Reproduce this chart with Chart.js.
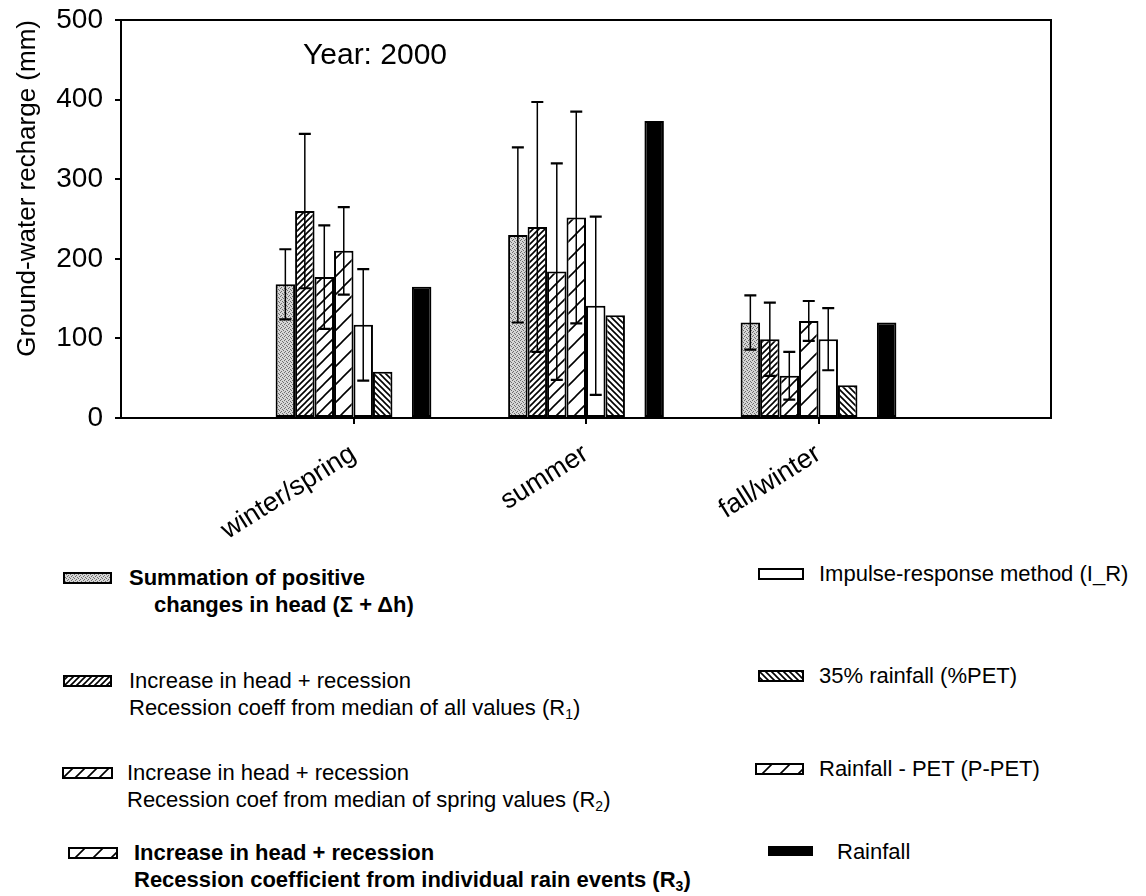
<!DOCTYPE html>
<html>
<head>
<meta charset="utf-8">
<script src="https://cdn.jsdelivr.net/npm/chart.js@4.4.0/dist/chart.umd.min.js"></script>
<style>
  body { margin: 0; background: #fff; font-family: 'Liberation Sans', Arial, sans-serif; color: #000; }
  #wrap { position: relative; width: 1146px; height: 896px; }
  #myChart { position: absolute; left: 0; top: 0; }
  .year { position: absolute; left: 303px; top: 37px; font-size: 30px; }
  .item { position: absolute; font-size: 22px; line-height: 27px; white-space: nowrap; }
  .item.bold { font-weight: bold; }
  .item sub { font-size: 14px; vertical-align: -4px; line-height: 0; }
  .sw { position: absolute; }
</style>
</head>
<body>
<div id="wrap">
  <canvas id="myChart" width="1146" height="540"></canvas>
  <div class="year">Year: 2000</div>
</div>
<script>
const seasons = ['winter/spring', 'summer', 'fall/winter'];

// recharge (mm) and error for each method
const summation = [168, 230, 120];
const summationErr = [44, 110, 34];
const r1 = [260, 240, 99];
const r1Err = [97, 157, 46];
const r2 = [177, 184, 53];
const r2Err = [65, 136, 30];
const r3 = [210, 252, 122];
const r3Err = [55, 133, 25];
const impulse = [117, 141, 99];
const impulseErr = [70, 112, 39];
const pctRain = [58, 129, 41];
const pPet = [null, null, null];
const rainfall = [165, 373, 120];

const yTicks = [0, 100, 200, 300, 400, 500];

// pad with empty categories on both ends
const pad = arr => [null, ...arr, null];

function makePattern(kind) {
  const c = document.createElement('canvas');
  const g = c.getContext('2d');
  let s = 6;
  if (kind === 'stipple') {
    s = 4;
    c.width = c.height = s;
    g.fillStyle = '#d6d6d6';
    g.fillRect(0, 0, s, s);
    g.fillStyle = '#6e6e6e';
    [[0, 0], [2, 1], [1, 3], [3, 2]].forEach(p => g.fillRect(p[0], p[1], 1, 1));
    return g.createPattern(c, 'repeat');
  }
  if (kind === 'fwd6') s = 6;
  if (kind === 'fwd12') s = 12;
  if (kind === 'fwd18') s = 18;
  if (kind === 'back6') s = 6;
  c.width = c.height = s;
  g.fillStyle = '#fff';
  g.fillRect(0, 0, s, s);
  g.strokeStyle = '#000';
  g.lineWidth = 1.6;
  g.beginPath();
  if (kind.startsWith('back')) {
    g.moveTo(0, 0); g.lineTo(s, s);
    g.moveTo(-1, s - 1); g.lineTo(1, s + 1);
    g.moveTo(s - 1, -1); g.lineTo(s + 1, 1);
  } else {
    g.moveTo(0, s); g.lineTo(s, 0);
    g.moveTo(-1, 1); g.lineTo(1, -1);
    g.moveTo(s - 1, s + 1); g.lineTo(s + 1, s - 1);
  }
  g.stroke();
  return g.createPattern(c, 'repeat');
}

const series = [
  { label: 'Summation', data: summation, errors: summationErr, fill: makePattern('stipple') },
  { label: 'R1', data: r1, errors: r1Err, fill: makePattern('fwd6') },
  { label: 'R2', data: r2, errors: r2Err, fill: makePattern('fwd12') },
  { label: 'R3', data: r3, errors: r3Err, fill: makePattern('fwd18') },
  { label: 'I_R', data: impulse, errors: impulseErr, fill: '#fff' },
  { label: '%PET', data: pctRain, errors: null, fill: makePattern('back6') },
  { label: 'P-PET', data: pPet, errors: null, fill: makePattern('fwd18') },
  { label: 'Rainfall', data: rainfall, errors: null, fill: '#000' },
];

const errorBars = {
  id: 'errorBars',
  afterDatasetsDraw(chart) {
    const { ctx, scales: { y } } = chart;
    chart.data.datasets.forEach((ds, i) => {
      if (!ds.errors) return;
      const meta = chart.getDatasetMeta(i);
      meta.data.forEach((bar, j) => {
        const v = ds.data[j], e = ds.errors[j];
        if (v == null || e == null) return;
        const x = bar.x;
        const top = y.getPixelForValue(v + e);
        const bot = y.getPixelForValue(Math.max(0, v - e));
        ctx.save();
        ctx.strokeStyle = '#000';
        ctx.lineWidth = 1.5;
        ctx.beginPath();
        ctx.moveTo(x, top); ctx.lineTo(x, bot);
        ctx.stroke();
        ctx.lineWidth = 2.2;
        ctx.beginPath();
        ctx.moveTo(x - 6, top); ctx.lineTo(x + 6, top);
        ctx.moveTo(x - 6, bot); ctx.lineTo(x + 6, bot);
        ctx.stroke();
        ctx.restore();
      });
    });
  }
};

const frame = {
  id: 'frame',
  afterDatasetsDraw(chart) {
    const { ctx, chartArea: a } = chart;
    ctx.save();
    ctx.strokeStyle = '#000';
    ctx.lineWidth = 2;
    ctx.beginPath();
    ctx.moveTo(a.left, a.top); ctx.lineTo(a.right, a.top); ctx.lineTo(a.right, a.bottom);
    ctx.stroke();
    ctx.restore();
  }
};

const datasets = series.map(s => ({
  label: s.label,
  data: pad(s.data),
  errors: s.errors ? pad(s.errors) : null,
  backgroundColor: s.fill,
  borderColor: '#000',
  borderWidth: 2,
  borderSkipped: false,
  barPercentage: 1,
  categoryPercentage: 0.67,
}));

const ctx = document.getElementById('myChart').getContext('2d');

const myChart = new Chart(ctx, {
  type: 'bar',
  data: { labels: ['', ...seasons, ''], datasets },
  options: {
    responsive: false,
    animation: false,
    layout: { padding: { left: 0, right: 95, top: 20, bottom: 0 } },
    plugins: { legend: { display: false }, tooltip: { enabled: false } },
    scales: {
      x: {
        offset: false,
        grid: {
          offset: false,
          drawOnChartArea: false,
          tickLength: 6,
          lineWidth: 2,
          color: c => (c.index === 0 || c.index === 4) ? 'rgba(0,0,0,0)' : '#000'
        },
        border: { color: '#000', width: 2 },
        ticks: {
          color: '#000',
          font: { size: 27, family: 'Liberation Sans' },
          minRotation: 32,
          maxRotation: 32,
          autoSkip: false,
          padding: 14
        },
        afterFit: s => { s.height = 122; }
      },
      y: {
        min: 0,
        max: 500,
        afterBuildTicks: s => { s.ticks = yTicks.map(v => ({ value: v })); },
        grid: { drawOnChartArea: false, tickLength: 6, lineWidth: 2, color: '#000' },
        border: { color: '#000', width: 2 },
        ticks: { color: '#000', font: { size: 28, family: 'Liberation Sans' }, padding: 12 },
        title: {
          display: true,
          text: 'Ground-water recharge (mm)',
          align: 'end',
          color: '#000',
          font: { size: 26, family: 'Liberation Sans' },
          padding: { top: 12, bottom: 0 }
        },
        afterFit: s => { s.width = 121; s.paddingTop = 0; }
      }
    }
  },
  plugins: [errorBars, frame]
});

// legend built as html, swatches painted with the same fills
const legendText = [
  ['Summation of positive', 'changes in head (\u03A3 + \u0394h)'],
  ['Increase in head + recession', 'Recession coeff from median of all values (R<sub>1</sub>)'],
  ['Increase in head + recession', 'Recession coef from median of spring values (R<sub>2</sub>)'],
  ['Increase in head + recession', 'Recession coefficient from individual rain events (R<sub>3</sub>)'],
  ['Impulse-response method (I_R)'],
  ['35% rainfall (%PET)'],
  ['Rainfall - PET (P-PET)'],
  ['Rainfall'],
];
const legendBold = [true, false, false, true, false, false, false, false];
const legendLayout = [
  { sx: 63, sy: 572, sw: 49, sh: 12, tx: 129, ty: 564, indent: 25 },
  { sx: 63, sy: 675, sw: 49, sh: 12, tx: 129, ty: 667, indent: 0 },
  { sx: 62, sy: 767, sw: 51, sh: 12, tx: 127, ty: 759, indent: 0 },
  { sx: 68, sy: 847, sw: 50, sh: 12, tx: 134, ty: 839, indent: 0 },
  { sx: 758, sy: 568, sw: 46, sh: 12, tx: 819, ty: 560, indent: 0 },
  { sx: 758, sy: 670, sw: 46, sh: 12, tx: 819, ty: 662, indent: 0 },
  { sx: 755, sy: 763, sw: 49, sh: 12, tx: 819, ty: 755, indent: 0 },
  { sx: 768, sy: 846, sw: 45, sh: 10, tx: 837, ty: 838, indent: 0 },
];

const wrap = document.getElementById('wrap');
series.forEach((s, i) => {
  const L = legendLayout[i];
  const c = document.createElement('canvas');
  c.className = 'sw';
  c.width = L.sw; c.height = L.sh;
  c.style.left = L.sx + 'px'; c.style.top = L.sy + 'px';
  const g = c.getContext('2d');
  g.fillStyle = s.fill;
  g.fillRect(0, 0, L.sw, L.sh);
  g.strokeStyle = '#000';
  g.lineWidth = 2;
  g.strokeRect(1, 1, L.sw - 2, L.sh - 2);
  wrap.appendChild(c);

  const d = document.createElement('div');
  d.className = 'item' + (legendBold[i] ? ' bold' : '');
  d.style.left = L.tx + 'px'; d.style.top = L.ty + 'px';
  d.innerHTML = legendText[i].map((t, k) =>
    '<div style="padding-left:' + (k > 0 ? L.indent : 0) + 'px">' + t + '</div>').join('');
  wrap.appendChild(d);
});
</script>
</body>
</html>
